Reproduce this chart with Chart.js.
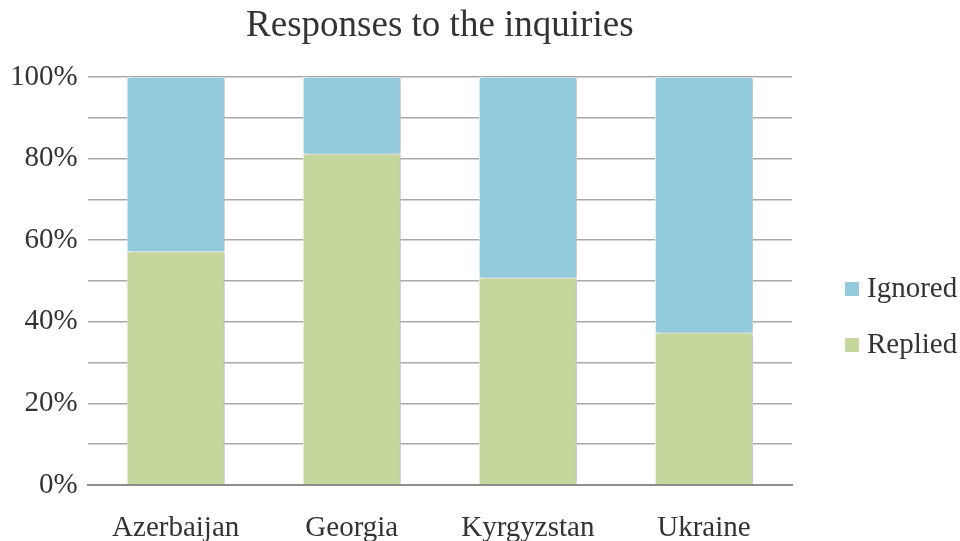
<!DOCTYPE html>
<html>
<head>
<meta charset="utf-8">
<script src="https://cdn.jsdelivr.net/npm/chart.js@4"></script>
<style>
  html, body { margin: 0; padding: 0; background: #fff; }
  #wrap { width: 960px; height: 541px; }
</style>
</head>
<body>
<div id="wrap"><canvas id="myChart"></canvas></div>
<script>
// données
const countries = ["Azerbaijan", "Georgia", "Kyrgyzstan", "Ukraine"];
const replied = [57.2, 81.2, 50.8, 37.3];
const ignored = [42.8, 18.8, 49.2, 62.7];
const titleText = "Responses to the inquiries";

const serif = "'Liberation Serif', 'Times New Roman', serif";

// titre centré sur la zone du graphique
const titlePlugin = {
  id: 'titleOverArea',
  afterDraw(chart) {
    const c = chart.ctx;
    const area = chart.chartArea;
    c.save();
    c.font = "37px " + serif;
    c.fillStyle = "#333";
    c.textAlign = "center";
    c.textBaseline = "middle";
    c.fillText(titleText, (area.left + area.right) / 2, 26);
    c.restore();
  }
};

// légende à droite, dessinée à la main (Ignored en haut)
const legendPlugin = {
  id: 'sideLegend',
  afterDraw(chart) {
    const c = chart.ctx;
    const sets = chart.data.datasets.slice().reverse();
    c.save();
    c.font = "29px " + serif;
    c.textBaseline = "middle";
    sets.forEach((ds, i) => {
      const y = 289 + i * 56;
      c.fillStyle = ds.backgroundColor;
      c.fillRect(845, y - 7, 14, 14);
      c.fillStyle = "#333";
      c.fillText(ds.label, 867, y);
    });
    c.restore();
  }
};

// petite ombre derrière les barres
const shadowPlugin = {
  id: 'barShadow',
  beforeDatasetsDraw(chart) {
    chart.ctx.save();
    chart.ctx.shadowColor = "rgba(0,0,0,0.25)";
    chart.ctx.shadowBlur = 4;
    chart.ctx.shadowOffsetX = 2;
  },
  afterDatasetsDraw(chart) {
    chart.ctx.restore();
  }
};

const ctx = document.getElementById('myChart');
const myChart = new Chart(ctx, {
  type: 'bar',
  data: {
    labels: countries,
    datasets: [
      {
        label: 'Replied',
        data: replied,
        backgroundColor: '#c4d69b',
        borderColor: '#f4f8ee',
        borderWidth: 1
      },
      {
        label: 'Ignored',
        data: ignored,
        backgroundColor: '#93cbdc',
        borderColor: '#eef7fa',
        borderWidth: 1
      }
    ]
  },
  options: {
    responsive: true,
    maintainAspectRatio: false,
    animation: false,
    layout: { padding: { top: 77, right: 168, left: 0, bottom: 0 } },
    datasets: { bar: { categoryPercentage: 0.557, barPercentage: 1.0 } },
    scales: {
      x: {
        stacked: true,
        grid: { display: false, drawTicks: false },
        border: { color: '#8c8c8c', width: 2 },
        ticks: { color: '#333', font: { family: serif, size: 29 }, padding: 26 },
        afterFit: scale => { scale.height = 56; }
      },
      y: {
        stacked: true,
        min: 0,
        max: 100,
        border: { display: false },
        grid: { color: '#a8a8a8', lineWidth: 1.5, drawTicks: false },
        ticks: {
          stepSize: 10,
          padding: 10,
          color: '#333',
          font: { family: serif, size: 29 },
          callback: v => (v % 20 === 0 ? v + '%' : '')
        }
      }
    },
    plugins: {
      title: { display: false },
      tooltip: { enabled: false },
      legend: { display: false }
    }
  },
  plugins: [titlePlugin, legendPlugin, shadowPlugin]
});
</script>
</body>
</html>
